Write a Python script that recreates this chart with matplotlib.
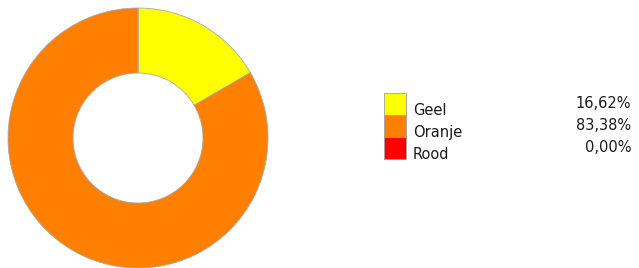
import matplotlib.pyplot as plt
from matplotlib.patches import Rectangle

labels = ['Geel', 'Oranje', 'Rood']
values = [16.62, 83.38, 0.00]
colors = ['#FFFF00', '#FF8000', '#FF0000']

W, H = 639, 268
fig = plt.figure(figsize=(W / 100, H / 100), dpi=100)
ax = fig.add_axes([0, 0, 1, 1])

ax.pie(values, colors=colors, startangle=90, counterclock=False,
       center=(138, H - 138), radius=130,
       wedgeprops=dict(width=65, edgecolor='#a8a8a8', linewidth=0.6))

ax.set_xlim(0, W)
ax.set_ylim(0, H)
ax.set_aspect('auto')
ax.axis('off')

# legend drawn by hand
box_x, box_top, box_w, box_h = 384, 93, 22, 22
for i, (lab, val, col) in enumerate(zip(labels, values, colors)):
    y0 = box_top + i * box_h
    ax.add_patch(Rectangle((box_x, H - y0 - box_h), box_w, box_h,
                           facecolor=col, edgecolor='#a0a0a0', linewidth=0.6))
    ax.text(413, H - (y0 + 17.5), lab, fontsize=10.5, va='center', ha='left',
            color='#1a1a1a')
    ax.text(631, H - (y0 + 11), f'{val:.2f}%'.replace('.', ','), fontsize=10.5,
            va='center', ha='right', color='#1a1a1a')

fig.savefig('out.png', dpi=100)
